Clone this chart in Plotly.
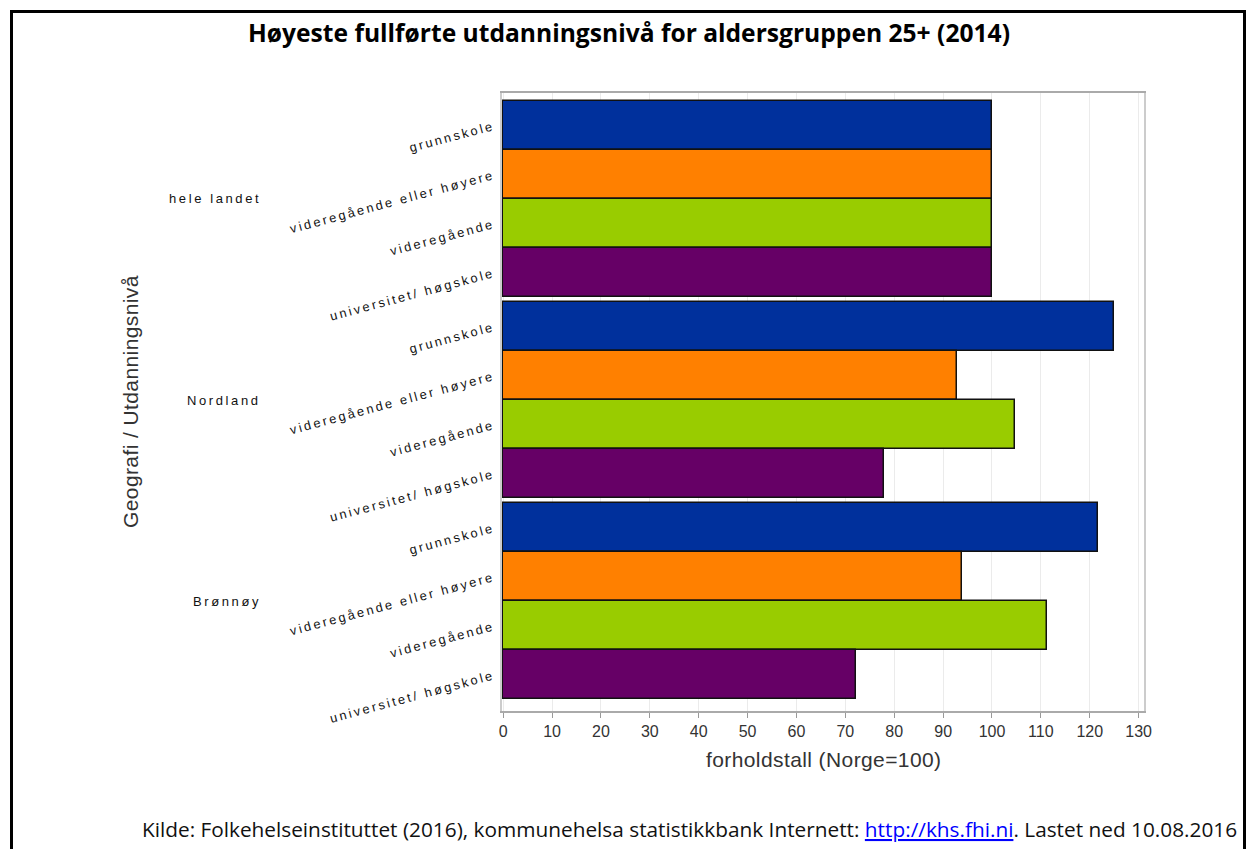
import plotly.graph_objects as go

groups = ["hele landet", "Nordland", "Brønnøy"]
levels = ["grunnskole", "videregående eller høyere", "videregående", "universitet/ høgskole"]
colors = ["#00309C", "#FF8000", "#99CC00", "#660066"]
# values per level, in group order
grunnskole = [100, 124.9, 121.7]
vgs_eller_hoyere = [100, 92.8, 93.8]
videregaende = [100, 104.7, 111.2]
universitet = [100, 77.9, 72.2]
series = [grunnskole, vgs_eller_hoyere, videregaende, universitet]
x_ticks = list(range(0, 131, 10))

GAP = 0.1
def pos(g, i):
    return g * (len(levels) + GAP) + i

fig = go.Figure()
for li, (lvl, vals) in enumerate(zip(levels, series)):
    fig.add_trace(go.Bar(
        x=vals, y=[pos(g, li) for g in range(len(groups))],
        orientation="h", width=1.0, name=lvl,
        marker=dict(color=colors[li], line=dict(color="#111111", width=1.5)),
        showlegend=False,
    ))

def spaced(t, ls):
    return f'<span style="letter-spacing:{ls}px">{t}</span>'

tickvals = [pos(g, i) for g in range(len(groups)) for i in range(len(levels))]
ticktext = [spaced(levels[i], 2.5) for g in range(len(groups)) for i in range(len(levels))]

W, H = 1247, 849
L, T = 502, 93
R = W - 1144
B = H - 711
pw, ph = W - L - R, H - T - B
def px(xr):
    return (xr - L) / pw
def py(yr):
    return (H - B - yr) / ph

annotations = []
for g, name in enumerate(groups):
    annotations.append(dict(
        text=spaced(name, 2.6), xref="paper", yref="y", x=px(263), y=pos(g, 1.5),
        xanchor="right", yanchor="middle", showarrow=False,
        font=dict(family="Liberation Sans", size=13, color="#111111")))
annotations.append(dict(
    text=spaced("Geografi / Utdanningsnivå", 0.4), xref="paper", yref="paper",
    x=px(130), y=0.5, textangle=-90, showarrow=False,
    xanchor="center", yanchor="middle",
    font=dict(family="Liberation Sans", size=21, color="#333333")))
annotations.append(dict(
    text='Kilde: Folkehelseinstituttet (2016), kommunehelsa statistikkbank Internett: '
         '<span style="text-decoration:underline;fill:#0000FF">http://khs.fhi.ni</span>. Lastet ned 10.08.2016',
    xref="paper", yref="paper", x=px(689), y=py(829), xanchor="center", yanchor="middle",
    showarrow=False, font=dict(family="Open Sans", size=20.8, color="#111111")))
annotations.append(dict(
    text=spaced("forholdstall (Norge=100)", 0.4), xref="paper", yref="paper",
    x=0.5, y=py(760), xanchor="center", yanchor="middle", showarrow=False,
    font=dict(family="Liberation Sans", size=21, color="#333333")))

fig.update_layout(
    width=W, height=H,
    margin=dict(l=L, r=R, t=T, b=B),
    paper_bgcolor="white", plot_bgcolor="white",
    bargap=0,
    title=dict(text="<b>Høyeste fullførte utdanningsnivå for aldersgruppen 25+ (2014)</b>",
               x=629 / W, xref="container", xanchor="center",
               y=1 - 33 / H, yref="container", yanchor="middle",
               font=dict(family="Open Sans", size=24.6, color="#000000")),
    annotations=annotations,
    shapes=[dict(type="rect", xref="paper", yref="paper",
                 x0=px(11.5), x1=px(1244.5), y0=py(11.5), y1=py(900),
                 line=dict(color="black", width=3))],
)
fig.update_xaxes(
    range=[-0.25, 131.1], tickvals=x_ticks,
    showgrid=True, gridcolor="#ebebeb", gridwidth=1,
    showline=True, linecolor="#aaaaaa", linewidth=1.5, mirror=True,
    ticks="outside", ticklen=5, tickcolor="#999999",
    tickfont=dict(family="Liberation Sans", size=16, color="#333333"),
    zeroline=False,
)
fig.update_yaxes(
    range=[pos(2, 3) + 0.74, -0.66],
    tickvals=tickvals, ticktext=ticktext, tickangle=-15,
    showgrid=False, zeroline=False,
    showline=True, linecolor="#cccccc", linewidth=1.5, mirror=True,
    ticks="", ticklabelstandoff=4,
    tickfont=dict(family="Liberation Sans", size=12.8, color="#111111"),
)

fig.write_html(
    "out.html",
    config={"displayModeBar": False},
    post_script="document.body.style.margin='0';document.body.style.overflow='hidden';",
)
